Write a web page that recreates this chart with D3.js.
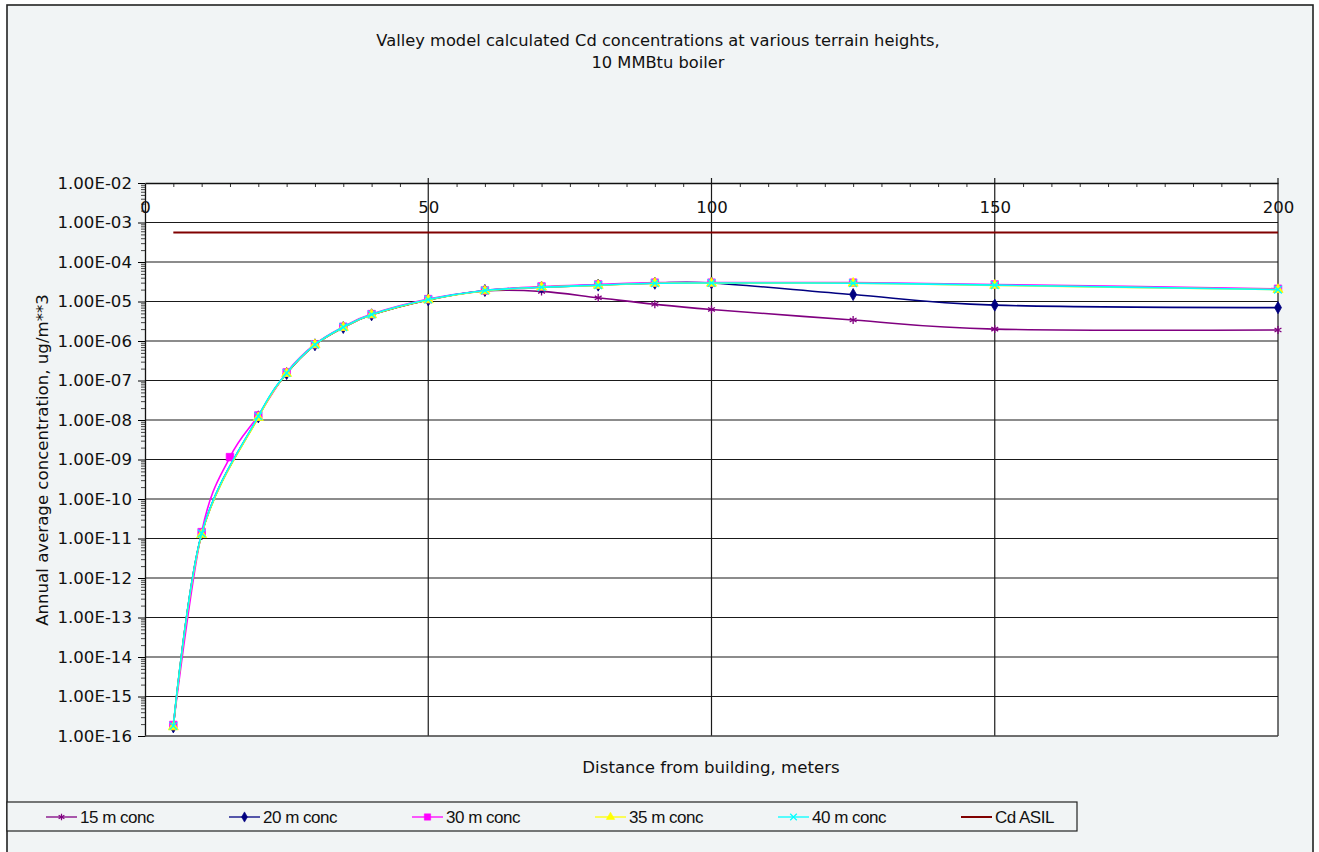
<!DOCTYPE html>
<html>
<head>
<meta charset="utf-8">
<script src="https://cdn.jsdelivr.net/npm/d3@7"></script>
<style>
  body { margin: 0; background: #fff; }
  svg { display: block; }
</style>
</head>
<body>
<svg id="chart" width="1319" height="852"></svg>
<script>
// distances (m)
const distances = [5, 10, 20, 25, 30, 35, 40, 50, 60, 70, 80, 90, 100, 125, 150, 200];
const distances30 = [5, 10, 15, 20, 25, 30, 35, 40, 50, 60, 70, 80, 90, 100, 125, 150, 200];

// annual average concentration, ug/m**3
const conc15 = [1.7e-16, 1.3e-11, 1.2e-8, 1.5e-7, 8.0e-7, 2.2e-6, 4.6e-6, 1.1e-5, 1.85e-5, 1.8e-5, 1.24e-5, 8.5e-6, 6.3e-6, 3.4e-6, 2.0e-6, 1.9e-6];
const conc20 = [1.7e-16, 1.3e-11, 1.2e-8, 1.5e-7, 8.0e-7, 2.2e-6, 4.6e-6, 1.1e-5, 1.9e-5, 2.3e-5, 2.6e-5, 2.9e-5, 2.95e-5, 1.5e-5, 8.1e-6, 7.0e-6];
const conc30 = [1.9e-16, 1.45e-11, 1.15e-9, 1.3e-8, 1.6e-7, 8.3e-7, 2.3e-6, 4.8e-6, 1.15e-5, 1.9e-5, 2.4e-5, 2.7e-5, 3.0e-5, 3.0e-5, 3.0e-5, 2.7e-5, 2.1e-5];
const conc35 = [1.7e-16, 1.25e-11, 1.15e-8, 1.5e-7, 8.0e-7, 2.2e-6, 4.6e-6, 1.1e-5, 1.85e-5, 2.3e-5, 2.55e-5, 2.9e-5, 2.9e-5, 2.9e-5, 2.55e-5, 2.0e-5];
const conc40 = [1.8e-16, 1.35e-11, 1.25e-8, 1.55e-7, 8.1e-7, 2.25e-6, 4.7e-6, 1.12e-5, 1.9e-5, 2.3e-5, 2.6e-5, 2.9e-5, 2.95e-5, 2.9e-5, 2.6e-5, 2.0e-5];

// Cd ASIL line
const asilDistances = [5, 200];
const asilValue = 5.6e-4;

const xTicks = [0, 50, 100, 150, 200];
const yTicks = [1e-2, 1e-3, 1e-4, 1e-5, 1e-6, 1e-7, 1e-8, 1e-9, 1e-10, 1e-11, 1e-12, 1e-13, 1e-14, 1e-15, 1e-16];

const seriesNames = ["15 m conc", "20 m conc", "30 m conc", "35 m conc", "40 m conc", "Cd ASIL"];
const seriesColors = ["#800080", "#000080", "#ff00ff", "#ffff00", "#00ffff", "#800000"];

const svg = d3.select("#chart");
const plot = { left: 145, right: 1278, top: 183, bottom: 736 };
const font = "'DejaVu Sans', Verdana, sans-serif";

// chart background and border
svg.append("rect")
    .attr("x", 7).attr("y", 5)
    .attr("width", 1306).attr("height", 900)
    .attr("fill", "#f1f4f5")
    .attr("stroke", "#222")
    .attr("stroke-width", 1.6);

svg.append("rect")
    .attr("x", plot.left).attr("y", plot.top)
    .attr("width", plot.right - plot.left).attr("height", plot.bottom - plot.top)
    .attr("fill", "#fff");

const xScale = d3.scaleLinear().domain([0, 200]).range([plot.left, plot.right]);
const yScale = d3.scaleLog().domain([1e-16, 1e-2]).range([plot.bottom, plot.top]);

// gridlines
svg.append("g").selectAll("line")
    .data(yTicks.slice(1))
    .enter().append("line")
    .attr("x1", plot.left).attr("x2", plot.right)
    .attr("y1", d => yScale(d)).attr("y2", d => yScale(d))
    .attr("stroke", "#1a1a1a").attr("stroke-width", 1.2);

svg.append("g").selectAll("line")
    .data(xTicks.slice(1))
    .enter().append("line")
    .attr("x1", d => xScale(d)).attr("x2", d => xScale(d))
    .attr("y1", plot.top - 5).attr("y2", plot.bottom)
    .attr("stroke", "#1a1a1a").attr("stroke-width", 1.2);

// y axis: minor ticks, then major ticks with labels
let minorY = [];
for (let e = -16; e < -2; e++) {
    for (let m = 2; m <= 9; m++) minorY.push(m * Math.pow(10, e));
}
svg.append("g")
    .attr("transform", `translate(${plot.left},0)`)
    .call(d3.axisLeft(yScale).tickValues(minorY).tickSize(4).tickFormat(""))
    .call(g => g.select(".domain").remove())
    .selectAll("line").attr("stroke", "#444");

svg.append("g")
    .attr("class", "y-axis")
    .attr("transform", `translate(${plot.left},0)`)
    .call(d3.axisLeft(yScale).tickValues(yTicks).tickSize(7).tickSizeOuter(0).tickPadding(6)
        .tickFormat(d => d.toExponential(2).toUpperCase().replace(/E([+-])(\d)$/, "E$10$2").replace("E+", "E")))
    .call(g => g.select(".domain").attr("stroke", "#111").attr("stroke-width", 1.3))
    .call(g => g.selectAll("text")
        .style("font-family", font)
        .style("font-size", "16.6px")
        .attr("fill", "#111"));

// x axis along the top, labels below it
let minorX = d3.range(5, 200, 5).filter(d => d % 50 !== 0);
svg.append("g")
    .attr("transform", `translate(0,${plot.top})`)
    .call(d3.axisBottom(xScale).tickValues(minorX).tickSize(4).tickFormat(""))
    .call(g => g.select(".domain").remove())
    .selectAll("line").attr("stroke", "#333");

svg.append("g")
    .attr("class", "x-axis")
    .attr("transform", `translate(0,${plot.top})`)
    .call(d3.axisBottom(xScale).tickValues(xTicks).tickSize(0).tickPadding(18))
    .call(g => g.select(".domain").attr("stroke", "#111").attr("stroke-width", 1.3))
    .call(g => g.selectAll("text")
        .style("font-family", font)
        .style("font-size", "16.6px")
        .attr("fill", "#111"));

// plot bottom edge
svg.append("line")
    .attr("x1", plot.left).attr("x2", plot.right)
    .attr("y1", plot.bottom).attr("y2", plot.bottom)
    .attr("stroke", "#555").attr("stroke-width", 1.2);

// series
const seriesData = [
    { x: distances, y: conc15, symbol: d3.symbolAsterisk, size: 44, stroked: true },
    { x: distances, y: conc20, symbol: d3.symbolDiamond, size: 42, stroked: false },
    { x: distances30, y: conc30, symbol: d3.symbolSquare, size: 56, stroked: false },
    { x: distances, y: conc35, symbol: d3.symbolTriangle, size: 44, stroked: false },
    { x: distances, y: conc40, symbol: d3.symbolTimes, size: 40, stroked: true }
];

const line = d3.line()
    .x(d => xScale(d[0]))
    .y(d => yScale(d[1]))
    .curve(d3.curveCardinal.tension(0));

seriesData.forEach((s, i) => {
    const pts = s.x.map((x, j) => [x, s.y[j]]);
    svg.append("path")
        .datum(pts)
        .attr("fill", "none")
        .attr("stroke", seriesColors[i])
        .attr("stroke-width", 1.6)
        .attr("d", line);
    svg.append("g").selectAll("path")
        .data(pts)
        .enter().append("path")
        .attr("transform", d => `translate(${xScale(d[0])},${yScale(d[1])})`)
        .attr("d", d3.symbol().type(s.symbol).size(s.size))
        .attr("fill", s.stroked ? "none" : seriesColors[i])
        .attr("stroke", seriesColors[i])
        .attr("stroke-width", s.stroked ? 1.3 : 0.8);
});

// Cd ASIL
svg.append("path")
    .datum(asilDistances.map(x => [x, asilValue]))
    .attr("fill", "none")
    .attr("stroke", seriesColors[5])
    .attr("stroke-width", 2)
    .attr("d", line);

// titles
const title = svg.append("text")
    .attr("x", 658).attr("text-anchor", "middle")
    .style("font-family", font)
    .style("font-size", "16.3px")
    .attr("fill", "#111");
title.append("tspan").attr("x", 658).attr("y", 46).text("Valley model calculated Cd concentrations at various terrain heights,");
title.append("tspan").attr("x", 658).attr("y", 68).text("10 MMBtu boiler");

svg.append("text")
    .attr("x", 711).attr("y", 773)
    .attr("text-anchor", "middle")
    .style("font-family", font)
    .style("font-size", "16.6px")
    .attr("fill", "#111")
    .text("Distance from building, meters");

svg.append("text")
    .attr("transform", "translate(48,460) rotate(-90)")
    .attr("text-anchor", "middle")
    .style("font-family", font)
    .style("font-size", "16.6px")
    .attr("fill", "#111")
    .text("Annual average concentration, ug/m**3");

// legend
const legend = svg.append("g");
legend.append("rect")
    .attr("x", 7).attr("y", 802)
    .attr("width", 1070).attr("height", 29)
    .attr("fill", "#f1f4f5")
    .attr("stroke", "#222").attr("stroke-width", 1.2);

const legendSymbols = [d3.symbolAsterisk, d3.symbolDiamond, d3.symbolSquare, d3.symbolTriangle, d3.symbolTimes, null];
seriesNames.forEach((name, i) => {
    const lx = 46 + i * 183;
    const g = legend.append("g").attr("transform", `translate(${lx},817)`);
    g.append("line")
        .attr("x1", 0).attr("x2", 31)
        .attr("stroke", seriesColors[i])
        .attr("stroke-width", i === 5 ? 2 : 1.3);
    if (legendSymbols[i]) {
        const stroked = i === 0 || i === 4;
        g.append("path")
            .attr("transform", "translate(15.5,0)")
            .attr("d", d3.symbol().type(legendSymbols[i]).size(i === 2 ? 40 : 30))
            .attr("fill", stroked ? "none" : seriesColors[i])
            .attr("stroke", seriesColors[i])
            .attr("stroke-width", stroked ? 1.2 : 0.6);
    }
    g.append("text")
        .attr("x", 34).attr("y", 6)
        .style("font-family", "'Liberation Sans', Arial, sans-serif")
        .style("font-size", "17px")
        .style("letter-spacing", "-0.5px")
        .attr("fill", "#111")
        .text(name);
});
</script>
</body>
</html>
